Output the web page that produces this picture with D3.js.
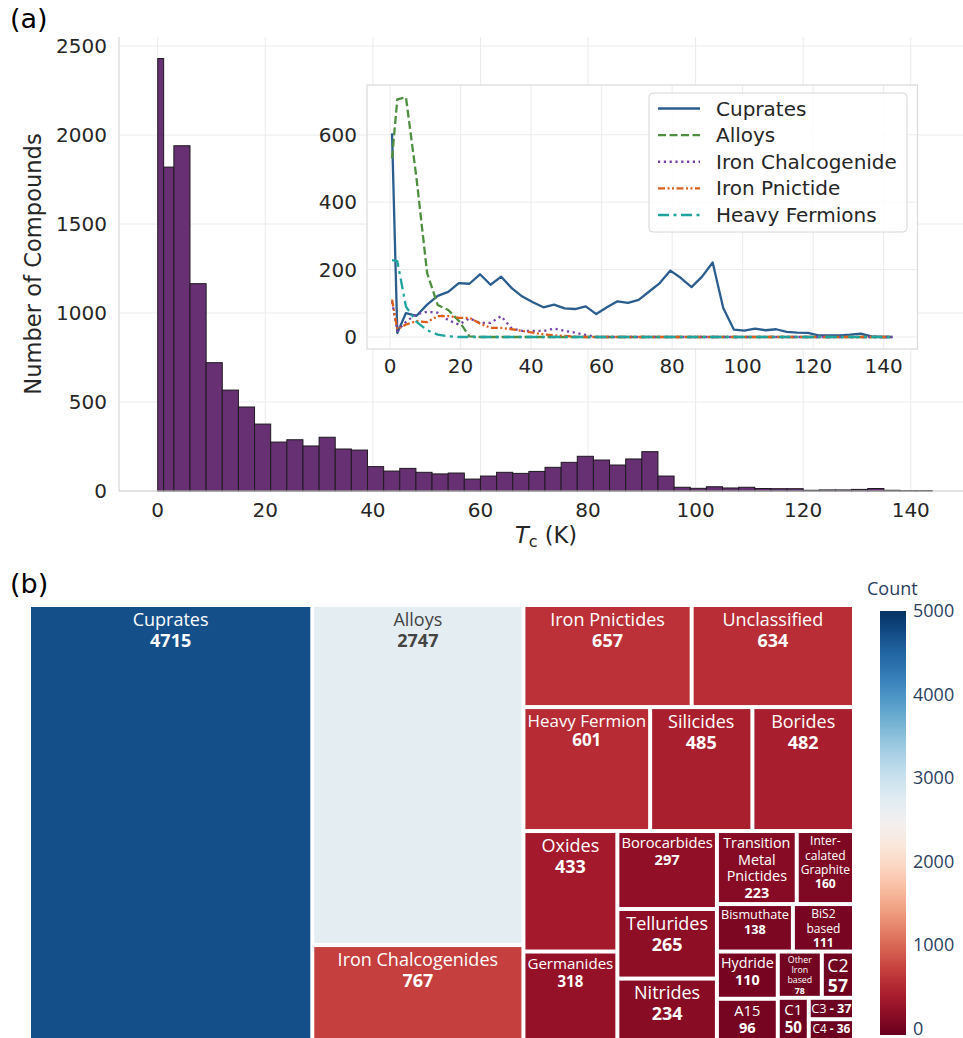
<!DOCTYPE html>
<html>
<head>
<meta charset="utf-8">
<script src="https://cdn.jsdelivr.net/npm/d3@7"></script>
<style>
  body { margin: 0; background: #ffffff; }
  svg { display: block; }
</style>
</head>
<body>
<div id="body"></div>
<script>
// ======================= DATA =======================

// (a) histogram of Tc, bin edges in K and counts per bin
var histEdges = [0, 1.1, 3, 6, 9, 12, 15, 18, 21, 24, 27, 30, 33, 36, 39, 42, 45, 48,
  51, 54, 57, 60, 63, 66, 69, 72, 75, 78, 81, 84, 87, 90, 93, 96, 99, 102, 105, 108,
  111, 114, 117, 120, 123, 126, 129, 132, 135, 138, 141, 144];
var histCounts = [2430, 1820, 1940, 1165, 721, 567, 472, 376, 275, 288, 253, 302, 236,
  230, 137, 112, 127, 105, 96, 101, 67, 84, 105, 99, 110, 133, 161, 195, 174, 146, 180,
  221, 84, 21, 15, 24, 17, 21, 14, 13, 13, 4, 6, 6, 9, 14, 4, 2, 2];

// (a) inset, counts per family at each Tc bin centre
var insetTc = [0.55, 2.05, 4.5, 7.5, 10.5, 13.5, 16.5, 19.5, 22.5, 25.5, 28.5, 31.5,
  34.5, 37.5, 40.5, 43.5, 46.5, 49.5, 52.5, 55.5, 58.5, 61.5, 64.5, 67.5, 70.5, 73.5,
  76.5, 79.5, 82.5, 85.5, 88.5, 91.5, 94.5, 97.5, 100.5, 103.5, 106.5, 109.5, 112.5,
  115.5, 118.5, 121.5, 124.5, 127.5, 130.5, 133.5, 136.5, 139.5, 142.5];
var cuprates = [604, 12, 71, 63, 96, 122, 134, 160, 158, 186, 155, 179, 145, 120, 103,
  88, 96, 85, 83, 91, 68, 88, 106, 101, 110, 135, 160, 197, 175, 148, 179, 221, 86, 22,
  19, 25, 20, 23, 15, 13, 12, 5, 5, 5, 7, 10, 2, 0, 0];
var alloys = [530, 705, 711, 470, 190, 95, 80, 48, 2, 0, 0, 0, 0, 0, 0, 0, 0, 0, 0, 0,
  0, 0, 0, 0, 0, 0, 0, 0, 0, 0, 0, 0, 0, 0, 0, 0, 0, 0, 0, 0, 0, 0, 0, 0, 0, 0, 0, 0, 0];
var ironChalcogenide = [105, 18, 45, 68, 75, 72, 50, 37, 55, 42, 42, 62, 25, 18, 18, 18,
  25, 18, 13, 6, 0, 0, 0, 0, 0, 0, 0, 0, 0, 0, 0, 0, 0, 0, 0, 0, 0, 0, 0, 0, 0, 0, 0, 0,
  0, 0, 0, 0, 0];
var ironPnictide = [111, 23, 37, 47, 44, 62, 62, 57, 57, 40, 27, 27, 23, 18, 13, 8, 5, 3,
  1, 0, 0, 0, 0, 0, 0, 0, 0, 0, 0, 0, 0, 0, 0, 0, 0, 0, 0, 0, 0, 0, 0, 0, 0, 0, 0, 0, 0,
  0, 0];
var heavyFermions = [228, 225, 90, 45, 20, 7, 2, 0, 0, 0, 0, 0, 0, 0, 0, 0, 0, 0, 0, 0,
  0, 0, 0, 0, 0, 0, 0, 0, 0, 0, 0, 0, 0, 0, 0, 0, 0, 0, 0, 0, 0, 0, 0, 0, 0, 0, 0, 0, 0];
var seriesNames = ["Cuprates", "Alloys", "Iron Chalcogenide", "Iron Pnictide", "Heavy Fermions"];

// (b) treemap families and counts
var families = ["Cuprates", "Alloys", "Iron Chalcogenides", "Iron Pnictides",
  "Unclassified", "Heavy Fermion", "Silicides", "Borides", "Oxides", "Germanides",
  "Borocarbides", "Tellurides", "Nitrides", "Transition\nMetal\nPnictides",
  "Inter-\ncalated\nGraphite", "Bismuthate", "BiS2\nbased", "Hydride", "A15",
  "Other\nIron\nbased", "C2", "C1", "C3", "C4"];
var familyCounts = [4715, 2747, 767, 657, 634, 601, 485, 482, 433, 318, 297, 265, 234,
  223, 160, 138, 111, 110, 96, 78, 57, 50, 37, 36];
var colorbarTicks = [0, 1000, 2000, 3000, 4000, 5000];

// ======================= SETUP =======================
var width = 963;
var height = 1038;

var svg = d3
  .select("#body")
  .append("svg")
  .attr("width", width)
  .attr("height", height);

var mplFont = "DejaVu Sans, sans-serif";
var plotlyFont = "Open Sans, sans-serif";
var textColor = "#262626";
var gridColor = "#ebebeb";
var spineColor = "#d0d0d0";
var barColor = "#663072";
var tickFont = 20;

var seriesValues = [cuprates, alloys, ironChalcogenide, ironPnictide, heavyFermions];
var seriesColors = ["#2b5d8e", "#4d8f3f", "#7442a8", "#dd5f1c", "#1fa39f"];
var seriesDash = [null, "8,3.5", "2.2,3.6", "7,2.5,2,2.5,2,2.5", "11,4.5,3,4.5"];

// ======================= (a) HISTOGRAM =======================

var xScale = d3.scaleLinear().domain([-7.2, 151.2]).range([119, 971]);
var yScale = d3.scaleLinear().domain([0, 2551]).range([491, 37]);

var groupA = svg.append("g");

groupA
  .selectAll("line.vgrid")
  .data(xScale.ticks(8))
  .enter()
  .append("line")
  .attr("class", "vgrid")
  .attr("x1", function (d) { return xScale(d); })
  .attr("x2", function (d) { return xScale(d); })
  .attr("y1", yScale.range()[1])
  .attr("y2", yScale.range()[0])
  .attr("stroke", gridColor)
  .attr("stroke-width", 1);

groupA
  .selectAll("line.hgrid")
  .data(yScale.ticks(5))
  .enter()
  .append("line")
  .attr("class", "hgrid")
  .attr("x1", xScale.range()[0])
  .attr("x2", width)
  .attr("y1", function (d) { return yScale(d); })
  .attr("y2", function (d) { return yScale(d); })
  .attr("stroke", gridColor)
  .attr("stroke-width", 1);

//BARS
groupA
  .selectAll("rect")
  .data(histCounts)
  .enter()
  .append("rect")
  .attr("x", function (d, i) { return xScale(histEdges[i]); })
  .attr("width", function (d, i) { return xScale(histEdges[i + 1]) - xScale(histEdges[i]); })
  .attr("y", function (d) { return yScale(d); })
  .attr("height", function (d) { return yScale(0) - yScale(d); })
  .attr("fill", barColor)
  .attr("stroke", "#1e1a20")
  .attr("stroke-width", 1);

//SPINES
groupA.append("line")
  .attr("x1", xScale.range()[0]).attr("x2", xScale.range()[0])
  .attr("y1", yScale.range()[1]).attr("y2", yScale.range()[0])
  .attr("stroke", spineColor);
groupA.append("line")
  .attr("x1", xScale.range()[0]).attr("x2", width)
  .attr("y1", yScale.range()[0]).attr("y2", yScale.range()[0])
  .attr("stroke", spineColor);

//TICK LABELS
groupA
  .selectAll("text.xt")
  .data(xScale.ticks(8))
  .enter()
  .append("text")
  .attr("class", "xt")
  .attr("x", function (d) { return xScale(d); })
  .attr("y", 517)
  .attr("text-anchor", "middle")
  .attr("font-size", tickFont)
  .attr("font-family", mplFont)
  .attr("fill", textColor)
  .text(d3.format("d"));

groupA
  .selectAll("text.yt")
  .data(yScale.ticks(5))
  .enter()
  .append("text")
  .attr("class", "yt")
  .attr("x", 107)
  .attr("y", function (d) { return yScale(d) + 7; })
  .attr("text-anchor", "end")
  .attr("font-size", tickFont)
  .attr("font-family", mplFont)
  .attr("fill", textColor)
  .text(d3.format("d"));

groupA.append("text")
  .attr("transform", "translate(41, 264) rotate(-90)")
  .attr("text-anchor", "middle")
  .attr("font-size", 22.6)
  .attr("font-family", mplFont)
  .attr("fill", textColor)
  .text("Number of Compounds");

var tcLabel = groupA.append("text")
  .attr("x", 546)
  .attr("y", 543)
  .attr("text-anchor", "middle")
  .attr("font-size", 22.6)
  .attr("font-family", mplFont)
  .attr("fill", textColor);
tcLabel.append("tspan").attr("font-style", "italic").text("T");
tcLabel.append("tspan").attr("font-size", 16).attr("dy", 4).text("c");
tcLabel.append("tspan").attr("dy", -4).text(" (K)");

svg.append("text")
  .attr("x", 10)
  .attr("y", 28)
  .attr("font-size", 27)
  .attr("font-family", mplFont)
  .attr("fill", "#000")
  .text("(a)");

// ======================= (a) INSET =======================

var ixScale = d3.scaleLinear().domain([-6.55, 149.6]).range([367, 917.5]);
var iyScale = d3.scaleLinear().domain([-35.6, 747.6]).range([349, 85]);

var groupInset = svg.append("g");

groupInset.append("rect")
  .attr("x", ixScale.range()[0])
  .attr("y", iyScale.range()[1])
  .attr("width", ixScale.range()[1] - ixScale.range()[0])
  .attr("height", iyScale.range()[0] - iyScale.range()[1])
  .attr("fill", "#ffffff");

groupInset
  .selectAll("line.ivgrid")
  .data(ixScale.ticks(8))
  .enter()
  .append("line")
  .attr("class", "ivgrid")
  .attr("x1", function (d) { return ixScale(d); })
  .attr("x2", function (d) { return ixScale(d); })
  .attr("y1", iyScale.range()[1])
  .attr("y2", iyScale.range()[0])
  .attr("stroke", gridColor);

groupInset
  .selectAll("line.ihgrid")
  .data(iyScale.ticks(4))
  .enter()
  .append("line")
  .attr("class", "ihgrid")
  .attr("x1", ixScale.range()[0])
  .attr("x2", ixScale.range()[1])
  .attr("y1", function (d) { return iyScale(d); })
  .attr("y2", function (d) { return iyScale(d); })
  .attr("stroke", gridColor);

groupInset.append("rect")
  .attr("x", ixScale.range()[0])
  .attr("y", iyScale.range()[1])
  .attr("width", ixScale.range()[1] - ixScale.range()[0])
  .attr("height", iyScale.range()[0] - iyScale.range()[1])
  .attr("fill", "none")
  .attr("stroke", "#dadada")
  .attr("stroke-width", 1.2);

var insetLine = d3.line()
  .x(function (d, i) { return ixScale(insetTc[i]); })
  .y(function (d) { return iyScale(d); });

groupInset
  .selectAll("path.series")
  .data(seriesValues)
  .enter()
  .append("path")
  .attr("class", "series")
  .attr("d", insetLine)
  .attr("fill", "none")
  .attr("stroke", function (d, i) { return seriesColors[i]; })
  .attr("stroke-width", 2.3)
  .attr("stroke-dasharray", function (d, i) { return seriesDash[i]; })
  .attr("stroke-linejoin", "round");

groupInset
  .selectAll("text.ixt")
  .data(ixScale.ticks(8))
  .enter()
  .append("text")
  .attr("class", "ixt")
  .attr("x", function (d) { return ixScale(d); })
  .attr("y", 373)
  .attr("text-anchor", "middle")
  .attr("font-size", tickFont)
  .attr("font-family", mplFont)
  .attr("fill", textColor)
  .text(d3.format("d"));

groupInset
  .selectAll("text.iyt")
  .data(iyScale.ticks(4))
  .enter()
  .append("text")
  .attr("class", "iyt")
  .attr("x", 357)
  .attr("y", function (d) { return iyScale(d) + 7; })
  .attr("text-anchor", "end")
  .attr("font-size", tickFont)
  .attr("font-family", mplFont)
  .attr("fill", textColor)
  .text(d3.format("d"));

//LEGEND
var legend = groupInset.append("g");
legend.append("rect")
  .attr("x", 649)
  .attr("y", 93)
  .attr("width", 258)
  .attr("height", 139)
  .attr("rx", 4)
  .attr("fill", "#ffffff")
  .attr("fill-opacity", 0.85)
  .attr("stroke", "#d6d6d6");

var legendRow = d3.scaleLinear().domain([0, 4]).range([108.5, 215]);

legend
  .selectAll("line")
  .data(seriesNames)
  .enter()
  .append("line")
  .attr("x1", 658)
  .attr("x2", 700)
  .attr("y1", function (d, i) { return legendRow(i); })
  .attr("y2", function (d, i) { return legendRow(i); })
  .attr("stroke", function (d, i) { return seriesColors[i]; })
  .attr("stroke-width", 2.3)
  .attr("stroke-dasharray", function (d, i) { return seriesDash[i]; });

legend
  .selectAll("text")
  .data(seriesNames)
  .enter()
  .append("text")
  .attr("x", 716)
  .attr("y", function (d, i) { return legendRow(i) + 7; })
  .attr("font-size", tickFont)
  .attr("font-family", mplFont)
  .attr("fill", textColor)
  .text(function (d) { return d; });

// ======================= (b) TREEMAP =======================

svg.append("text")
  .attr("x", 10)
  .attr("y", 593)
  .attr("font-size", 27)
  .attr("font-family", mplFont)
  .attr("fill", "#000")
  .text("(b)");

var countColor = d3.scaleSequential(d3.interpolateRdBu).domain([0, 5000]);

// layout is squarified on a slightly taller canvas, then squeezed into the panel
var layoutW = 825;
var layoutH = 478.5;
var tmX = d3.scaleLinear().domain([0, layoutW]).range([29, 854]);
var tmY = d3.scaleLinear().domain([0, layoutH]).range([605, 1040]);

var root = d3
  .hierarchy({
    children: families.map(function (f, i) {
      return { name: f, value: familyCounts[i] };
    })
  })
  .sum(function (d) { return d.value || 0; })
  .sort(function (a, b) { return b.value - a.value; });

d3.treemap()
  .tile(d3.treemapSquarify.ratio(1))
  .size([layoutW, layoutH])(root);

var leaves = root.leaves();
var groupB = svg.append("g");

groupB
  .selectAll("rect")
  .data(leaves)
  .enter()
  .append("rect")
  .attr("x", function (d) { return tmX(d.x0) + 2; })
  .attr("y", function (d) { return tmY(d.y0) + 2; })
  .attr("width", function (d) { return tmX(d.x1) - tmX(d.x0) - 4; })
  .attr("height", function (d) { return tmY(d.y1) - tmY(d.y0) - 4; })
  .attr("fill", function (d) { return countColor(d.value); });

//TILE TEXT
var baseFont = 18;
var lineStep = 1.17;
var probe = svg.append("text")
  .attr("x", -1000)
  .attr("y", -1000)
  .attr("font-size", baseFont)
  .attr("font-family", plotlyFont);

function probeWidth(str, weight) {
  probe.attr("font-weight", weight).text(str);
  return probe.node().getComputedTextLength();
}

leaves.forEach(function (d) {
  var x0 = tmX(d.x0) + 2;
  var y0 = tmY(d.y0) + 2;
  var w = tmX(d.x1) - tmX(d.x0) - 4;
  var h = Math.min(tmY(d.y1), height) - tmY(d.y0) - 4;
  var cx = x0 + w / 2;
  var lines = d.data.name.split("\n");
  var valueText = String(d.value);
  var fill = d3.lab(countColor(d.value)).l > 60 ? "#444444" : "#ffffff";

  var widest = d3.max(lines.map(function (l) { return probeWidth(l, "normal"); })
    .concat([probeWidth(valueText, "bold")]));
  var n = lines.length + 1;
  var fsStack = Math.min(baseFont, baseFont * (w - 4) / widest, h / (n * 1.2));

  var inlineW = probeWidth(lines.join(" ") + " ", "normal") + probeWidth("- " + valueText, "bold");
  var fsInline = Math.min(baseFont, baseFont * (w - 4) / inlineW, h / 1.25);

  // one-line "label - value" only when the stacked text would be far too small
  if (lines.length === 1 && fsInline > 1.3 * fsStack) {
    var t = groupB.append("text")
      .attr("x", cx)
      .attr("y", y0 + 1.03 * fsInline)
      .attr("text-anchor", "middle")
      .attr("font-size", fsInline)
      .attr("font-family", plotlyFont)
      .attr("fill", fill);
    t.append("tspan").text(lines[0] + " ");
    t.append("tspan").attr("font-weight", "bold").text("- " + valueText);
  } else {
    var t2 = groupB.append("text")
      .attr("text-anchor", "middle")
      .attr("font-size", fsStack)
      .attr("font-family", plotlyFont)
      .attr("fill", fill);
    lines.concat([valueText]).forEach(function (l, i) {
      t2.append("tspan")
        .attr("x", cx)
        .attr("y", y0 + 1.03 * fsStack + i * lineStep * fsStack)
        .attr("font-weight", i === lines.length ? "bold" : "normal")
        .text(l);
    });
  }
});
probe.remove();

//COLORBAR
var cbScale = d3.scaleLinear().domain([0, 5000]).range([1029, 611]);
var defs = svg.append("defs");
var grad = defs.append("linearGradient")
  .attr("id", "cbGrad")
  .attr("x1", 0).attr("y1", 1).attr("x2", 0).attr("y2", 0);
grad
  .selectAll("stop")
  .data(d3.range(0, 1.0001, 0.05))
  .enter()
  .append("stop")
  .attr("offset", function (d) { return d; })
  .attr("stop-color", function (d) { return d3.interpolateRdBu(d); });

svg.append("rect")
  .attr("x", 880)
  .attr("y", cbScale(5000))
  .attr("width", 26)
  .attr("height", cbScale(0) - cbScale(5000) + 6)
  .attr("fill", "url(#cbGrad)");

svg
  .selectAll("text.cb")
  .data(colorbarTicks)
  .enter()
  .append("text")
  .attr("class", "cb")
  .attr("x", 913)
  .attr("y", function (d) { return cbScale(d) + 6; })
  .attr("font-size", 18)
  .attr("font-family", plotlyFont)
  .attr("fill", "#2a3f5f")
  .text(function (d) { return d; });

svg.append("text")
  .attr("x", 867)
  .attr("y", 595)
  .attr("font-size", 18)
  .attr("font-family", plotlyFont)
  .attr("fill", "#2a3f5f")
  .text("Count");
</script>
</body>
</html>
